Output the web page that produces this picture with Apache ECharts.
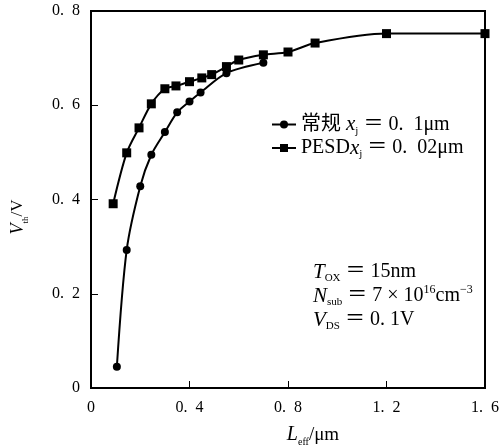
<!DOCTYPE html>
<html>
<head>
<meta charset="utf-8">
<script src="https://cdn.jsdelivr.net/npm/echarts@6/dist/echarts.min.js"></script>
<style>
  html, body { margin: 0; padding: 0; background: #fff; }
  #chart { width: 502px; height: 446px; }
</style>
</head>
<body>
<div id="chart"></div>
<script>
// 常规 xj = 0.1um
var convX = [0.105, 0.145, 0.2, 0.245, 0.3, 0.35, 0.4, 0.445, 0.55, 0.7]
var convY = [0.045, 0.293, 0.428, 0.495, 0.543, 0.585, 0.608, 0.627, 0.668, 0.69]
// PESD xj = 0.02um
var pesdX = [0.09, 0.145, 0.195, 0.245, 0.3, 0.345, 0.4, 0.45, 0.49, 0.55, 0.6, 0.7, 0.8, 0.91, 1.2, 1.6]
var pesdY = [0.391, 0.499, 0.552, 0.603, 0.635, 0.641, 0.65, 0.658, 0.665, 0.682, 0.696, 0.707, 0.713, 0.732, 0.752, 0.752]

var serif = '"Liberation Serif", "DejaVu Serif", "Noto Sans CJK SC", serif'

function pairs (xs, ys) {
  return xs.map(function (x, i) { return [x, ys[i]] })
}
function tickFmt (v) {
  if (v === 0) return '0'
  return v.toFixed(1).replace('.', '.  ')
}

function makeRich (size) {
  return {
    it: { fontFamily: serif, fontStyle: 'italic', fontSize: size + 1, fill: '#000', color: '#000', lineHeight: 24 },
    sub: { fontFamily: serif, fontSize: Math.round(size * 0.55), fill: '#000', color: '#000', verticalAlign: 'bottom', padding: [8, 0, 0, 0], lineHeight: 24 },
    sup: { fontFamily: serif, fontSize: Math.round(size * 0.6), fill: '#000', color: '#000', verticalAlign: 'top', padding: [0, 0, 10, 0], lineHeight: 24 },
    n: { fontFamily: serif, fontSize: size, fill: '#000', color: '#000', lineHeight: 24 }
  }
}

var chart = echarts.init(document.getElementById('chart'))
var option = {
  animation: false,
  backgroundColor: '#fff',
  textStyle: { fontFamily: serif, color: '#000' },
  grid: {
    left: 91, right: 13, top: 11, bottom: 58,
    show: true, borderColor: '#000', borderWidth: 2
  },
  legend: {
    orient: 'vertical',
    left: 266, top: 109,
    itemWidth: 24, itemHeight: 10, itemGap: 1,
    textStyle: { fontFamily: serif, fontSize: 20, color: '#000', rich: makeRich(20) },
    formatter: function (name) {
      if (name === 'conv') return '{n|常规 }{it|x}{sub|j}{n| ＝ 0.  1μm}'
      return '{n|PESD}{it|x}{sub|j}{n| ＝ 0.  02μm}'
    },
    data: ['conv', 'pesd']
  },
  xAxis: {
    type: 'value', min: 0, max: 1.6, interval: 0.4,
    axisLine: { lineStyle: { color: '#000', width: 2 } },
    axisTick: { inside: true, length: 7, lineStyle: { color: '#000', width: 1 } },
    axisLabel: { formatter: tickFmt, fontFamily: serif, fontSize: 16, color: '#000', margin: 12 },
    splitLine: { show: false }
  },
  yAxis: {
    type: 'value', min: 0, max: 0.8, interval: 0.2,
    axisLine: { show: true, lineStyle: { color: '#000', width: 2 } },
    axisTick: { show: true, inside: true, length: 7, lineStyle: { color: '#000', width: 1 } },
    axisLabel: { formatter: tickFmt, fontFamily: serif, fontSize: 16, color: '#000', margin: 11 },
    splitLine: { show: false }
  },
  graphic: [
    {
      type: 'text', x: 18, y: 217, rotation: Math.PI / 2,
      style: {
        text: '{it|V}{sub|th}{n|/V}',
        align: 'center', verticalAlign: 'middle',
        rich: makeRich(17)
      }
    },
    {
      type: 'text', x: 313, y: 435,
      style: {
        text: '{it|L}{sub|eff}{n|/μm}',
        align: 'center', verticalAlign: 'middle',
        rich: makeRich(19)
      }
    },
    {
      type: 'text', left: 313, top: 260,
      style: {
        text: '{it|T}{sub|OX}{n| ＝ 15nm}\n{it|N}{sub|sub}{n| ＝ 7 × 10}{sup|16}{n|cm}{sup|−3}\n{it|V}{sub|DS}{n| ＝ 0. 1V}',
        lineHeight: 24,
        rich: makeRich(20)
      }
    }
  ],
  series: [
    {
      name: 'conv', type: 'line', smooth: 0.3,
      data: pairs(convX, convY),
      symbol: 'circle', symbolSize: 8,
      lineStyle: { color: '#000', width: 2 },
      itemStyle: { color: '#000' }
    },
    {
      name: 'pesd', type: 'line', smooth: 0.3,
      data: pairs(pesdX, pesdY),
      symbol: 'rect', symbolSize: 9,
      lineStyle: { color: '#000', width: 2 },
      itemStyle: { color: '#000' }
    }
  ]
}
chart.setOption(option)
</script>
</body>
</html>
